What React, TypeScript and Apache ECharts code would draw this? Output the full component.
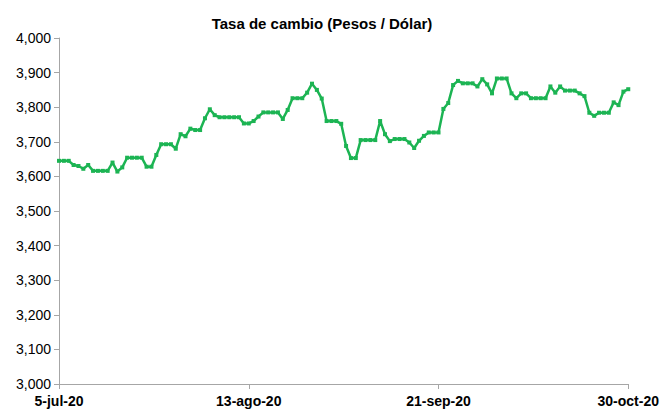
import React, { useEffect, useRef } from "react";
import * as echarts from "echarts";

const TITLE = "Tasa de cambio (Pesos / Dólar)";
const START_DATE = "2020-07-05";
const MONTHS_ES = ["ene", "feb", "mar", "abr", "may", "jun", "jul", "ago", "sep", "oct", "nov", "dic"];

// Daily exchange rate (COP per USD), 5-jul-20 .. 30-oct-20
const rates = [
  3645, 3645, 3645, 3633, 3630, 3622, 3633, 3616, 3616, 3616,
  3616, 3640, 3614, 3626, 3654, 3654, 3654, 3654, 3628, 3628,
  3662, 3693, 3693, 3693, 3680, 3722, 3716, 3738, 3734, 3734,
  3768, 3794, 3777, 3771, 3771, 3771, 3771, 3771, 3753, 3753,
  3760, 3773, 3785, 3785, 3785, 3785, 3766, 3792, 3826, 3826,
  3826, 3842, 3868, 3850, 3825, 3760, 3760, 3760, 3752, 3688,
  3653, 3653, 3705, 3705, 3705, 3705, 3760, 3722, 3702, 3708,
  3708, 3708, 3698, 3682, 3703, 3717, 3727, 3727, 3727, 3795,
  3812, 3864, 3876, 3869, 3869, 3869, 3860, 3881, 3866, 3840,
  3883, 3883, 3883, 3840, 3826, 3840, 3840, 3826, 3826, 3826,
  3826, 3860, 3842, 3860, 3848, 3848, 3848, 3840, 3832, 3784,
  3775, 3784, 3784, 3784, 3814, 3806, 3845, 3852,
];

const Y_MIN = 3000;
const Y_MAX = 4000;
const Y_STEP = 100;
const LABEL_EVERY = 39;

function buildDates(start: string, n: number): string[] {
  const out: string[] = [];
  const d0 = new Date(start + "T00:00:00Z");
  for (let i = 0; i < n; i++) {
    const d = new Date(d0.getTime() + i * 86400000);
    const yy = String(d.getUTCFullYear()).slice(2);
    out.push(`${d.getUTCDate()}-${MONTHS_ES[d.getUTCMonth()]}-${yy}`);
  }
  return out;
}

const dates = buildDates(START_DATE, rates.length);

export default function App() {
  const ref = useRef<HTMLDivElement>(null);
  useEffect(() => {
    if (!ref.current) return;
    const chart = echarts.init(ref.current, null, { renderer: "svg" });
    chart.setOption({
      animation: false,
      backgroundColor: "#ffffff",
      title: {
        text: TITLE,
        left: 317,
        top: 11,
        textAlign: "center",
        textStyle: {
          fontFamily: "Liberation Sans, Arial, sans-serif",
          fontSize: 15,
          fontWeight: "bold",
          color: "#000",
        },
      },
      grid: { left: 59, right: 32, top: 38, bottom: 27, containLabel: false },
      xAxis: {
        type: "category",
        data: dates,
        boundaryGap: false,
        axisLine: { lineStyle: { color: "#a6a6a6", width: 1 } },
        axisTick: { show: true, interval: LABEL_EVERY - 1, length: 5, lineStyle: { color: "#a6a6a6" } },
        axisLabel: {
          interval: LABEL_EVERY - 1,
          margin: 10,
          fontFamily: "Liberation Sans, Arial, sans-serif",
          fontSize: 14,
          fontWeight: "bold",
          color: "#000",
        },
        splitLine: { show: false },
      },
      yAxis: {
        type: "value",
        min: Y_MIN,
        max: Y_MAX,
        interval: Y_STEP,
        axisLine: { show: true, lineStyle: { color: "#a6a6a6", width: 1 } },
        axisTick: { show: true, length: 5, lineStyle: { color: "#a6a6a6" } },
        axisLabel: {
          margin: 8,
          fontFamily: "Liberation Sans, Arial, sans-serif",
          fontSize: 14,
          color: "#000",
          formatter: (v: number) => v.toLocaleString("en-US"),
        },
        splitLine: { show: false },
      },
      series: [
        {
          type: "line",
          data: rates,
          symbol: "rect",
          symbolSize: 4,
          showSymbol: true,
          showAllSymbol: true,
          lineStyle: { color: "#1cb453", width: 2.5 },
          itemStyle: { color: "#1cb453" },
        },
      ],
    });
    return () => chart.dispose();
  }, []);
  return (
    <div
      ref={ref}
      style={{ position: "fixed", left: 0, top: 0, width: 662, height: 411, background: "#fff" }}
    />
  );
}
